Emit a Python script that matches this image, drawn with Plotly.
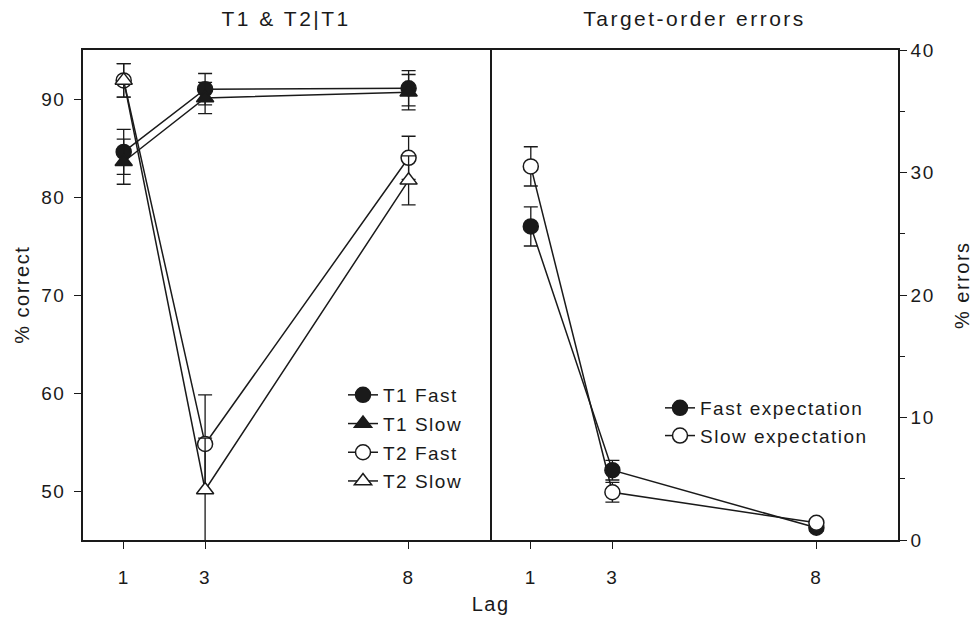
import plotly.graph_objects as go

lags = [1, 3, 8]

t1_fast = [84.6, 91.0, 91.1]
t1_fast_err = [2.3, 1.6, 1.8]
t1_slow = [83.6, 90.1, 90.7]
t1_slow_err = [2.3, 1.6, 1.8]
t2_fast = [91.9, 54.8, 84.0]
t2_fast_err = [1.7, 5.0, 2.2]
t2_slow = [91.9, 50.1, 81.7]
t2_slow_err = [1.7, 5.3, 2.5]

fast_exp = [25.6, 5.7, 1.0]
fast_exp_err = [1.6, 0.8, 0.3]
slow_exp = [30.5, 3.9, 1.4]
slow_exp_err = [1.6, 0.8, 0.3]

FONT = "Liberation Sans, Arial, sans-serif"
BLACK = "#1a1a1a"

W, H = 972, 618
L, R, T, B = 83, 74, 50, 78
pw = W - L - R
ph = H - T - B
split = (490 - L) / pw


def px_x(p):
    return (p - L) / pw


def px_y(p):
    return (H - B - p) / ph


fig = go.Figure()


def add(x, y, err, name, symbol, fill, xa, ya, legend, group):
    fig.add_trace(go.Scatter(
        x=x, y=y, name=name, mode="lines+markers",
        xaxis=xa, yaxis=ya, legend=legend, legendgroup=group,
        line=dict(color=BLACK, width=1.5),
        marker=dict(symbol=symbol, size=15, color=fill,
                    line=dict(color=BLACK, width=1.5)),
        error_y=dict(type="data", array=err, visible=True,
                     color=BLACK, thickness=1.3, width=7),
    ))


add(lags, t1_fast, t1_fast_err, "T1 Fast", "circle", BLACK, "x", "y", "legend", "a")
add(lags, t1_slow, t1_slow_err, "T1 Slow", "triangle-up", BLACK, "x", "y", "legend", "b")
add(lags, t2_fast, t2_fast_err, "T2 Fast", "circle", "white", "x", "y", "legend", "c")
add(lags, t2_slow, t2_slow_err, "T2 Slow", "triangle-up", "white", "x", "y", "legend", "d")

add(lags, fast_exp, fast_exp_err, "Fast expectation", "circle", BLACK, "x2", "y2", "legend2", "e")
add(lags, slow_exp, slow_exp_err, "Slow expectation", "circle", "white", "x2", "y2", "legend2", "f")

TICKFONT = dict(family=FONT, size=19, color=BLACK)
axis_common = dict(showline=True, linecolor=BLACK, linewidth=1.6,
                   ticks="outside", ticklen=7, tickwidth=1.3, tickcolor=BLACK,
                   showgrid=False, zeroline=False, tickfont=TICKFONT)

fig.update_layout(
    width=W, height=H,
    margin=dict(l=L, r=R, t=T, b=B),
    paper_bgcolor="white", plot_bgcolor="white",
    font=dict(family=FONT, color=BLACK),
    xaxis=dict(domain=[0, split], range=[0, 10], tickvals=lags, mirror=True,
               ticktext=[str(v) for v in lags], ticklabelstandoff=12, **axis_common),
    yaxis=dict(range=[45, 95], tickvals=[50, 60, 70, 80, 90], mirror=True,
               ticklabelstandoff=5, **axis_common),
    xaxis2=dict(domain=[split, 1], range=[0, 10], tickvals=lags, mirror=True,
                ticktext=[str(v) for v in lags], ticklabelstandoff=12, **axis_common),
    yaxis2=dict(anchor="x2", side="right", range=[0, 40], mirror=False,
                tickvals=[0, 10, 20, 30, 40],
                minor=dict(ticks="outside", ticklen=5, tickwidth=1.2,
                           tickcolor=BLACK, dtick=5, tick0=0),
                **axis_common),
    legend=dict(x=px_x(343), y=px_y(376), xanchor="left", yanchor="top",
                bgcolor="rgba(0,0,0,0)", tracegroupgap=1,
                font=dict(family=FONT, size=19, color=BLACK)),
    legend2=dict(x=px_x(660), y=px_y(389), xanchor="left", yanchor="top",
                 bgcolor="rgba(0,0,0,0)", tracegroupgap=0,
                 font=dict(family=FONT, size=19, color=BLACK)),
    showlegend=True,
)

ann = dict(showarrow=False, xref="paper", yref="paper",
           xanchor="center", yanchor="middle")
TITLEFONT = dict(family=FONT, size=21, color=BLACK)
LABELFONT = dict(family=FONT, size=20, color=BLACK)
fig.add_annotation(text="T1 & T2|T1", x=px_x(286), y=px_y(18), font=TITLEFONT, **ann)
fig.add_annotation(text="Target-order errors", x=px_x(694), y=px_y(18), font=TITLEFONT, **ann)
fig.add_annotation(text="Lag", x=px_x(490), y=px_y(604), font=LABELFONT, **ann)
fig.add_annotation(text="% correct", x=px_x(22), y=px_y(295), textangle=-90, font=LABELFONT, **ann)
fig.add_annotation(text="% errors", x=px_x(962), y=px_y(285), textangle=-90, font=LABELFONT, **ann)

post = """
document.body.style.margin = '0';
var big = ['T1 & T2|T1', 'Target-order errors'];
document.querySelectorAll('svg text').forEach(function (t) {
  t.style.letterSpacing = big.indexOf(t.textContent) >= 0 ? '2.5px' : '1.5px';
});
document.querySelectorAll('g.scrollbox, g[class^="legend"]').forEach(function (g) {
  g.removeAttribute('clip-path');
});
document.querySelectorAll('rect.scrollbar').forEach(function (r) {
  r.style.display = 'none';
});
"""

fig.write_html("out.html", post_script=post, config={"displayModeBar": False})
